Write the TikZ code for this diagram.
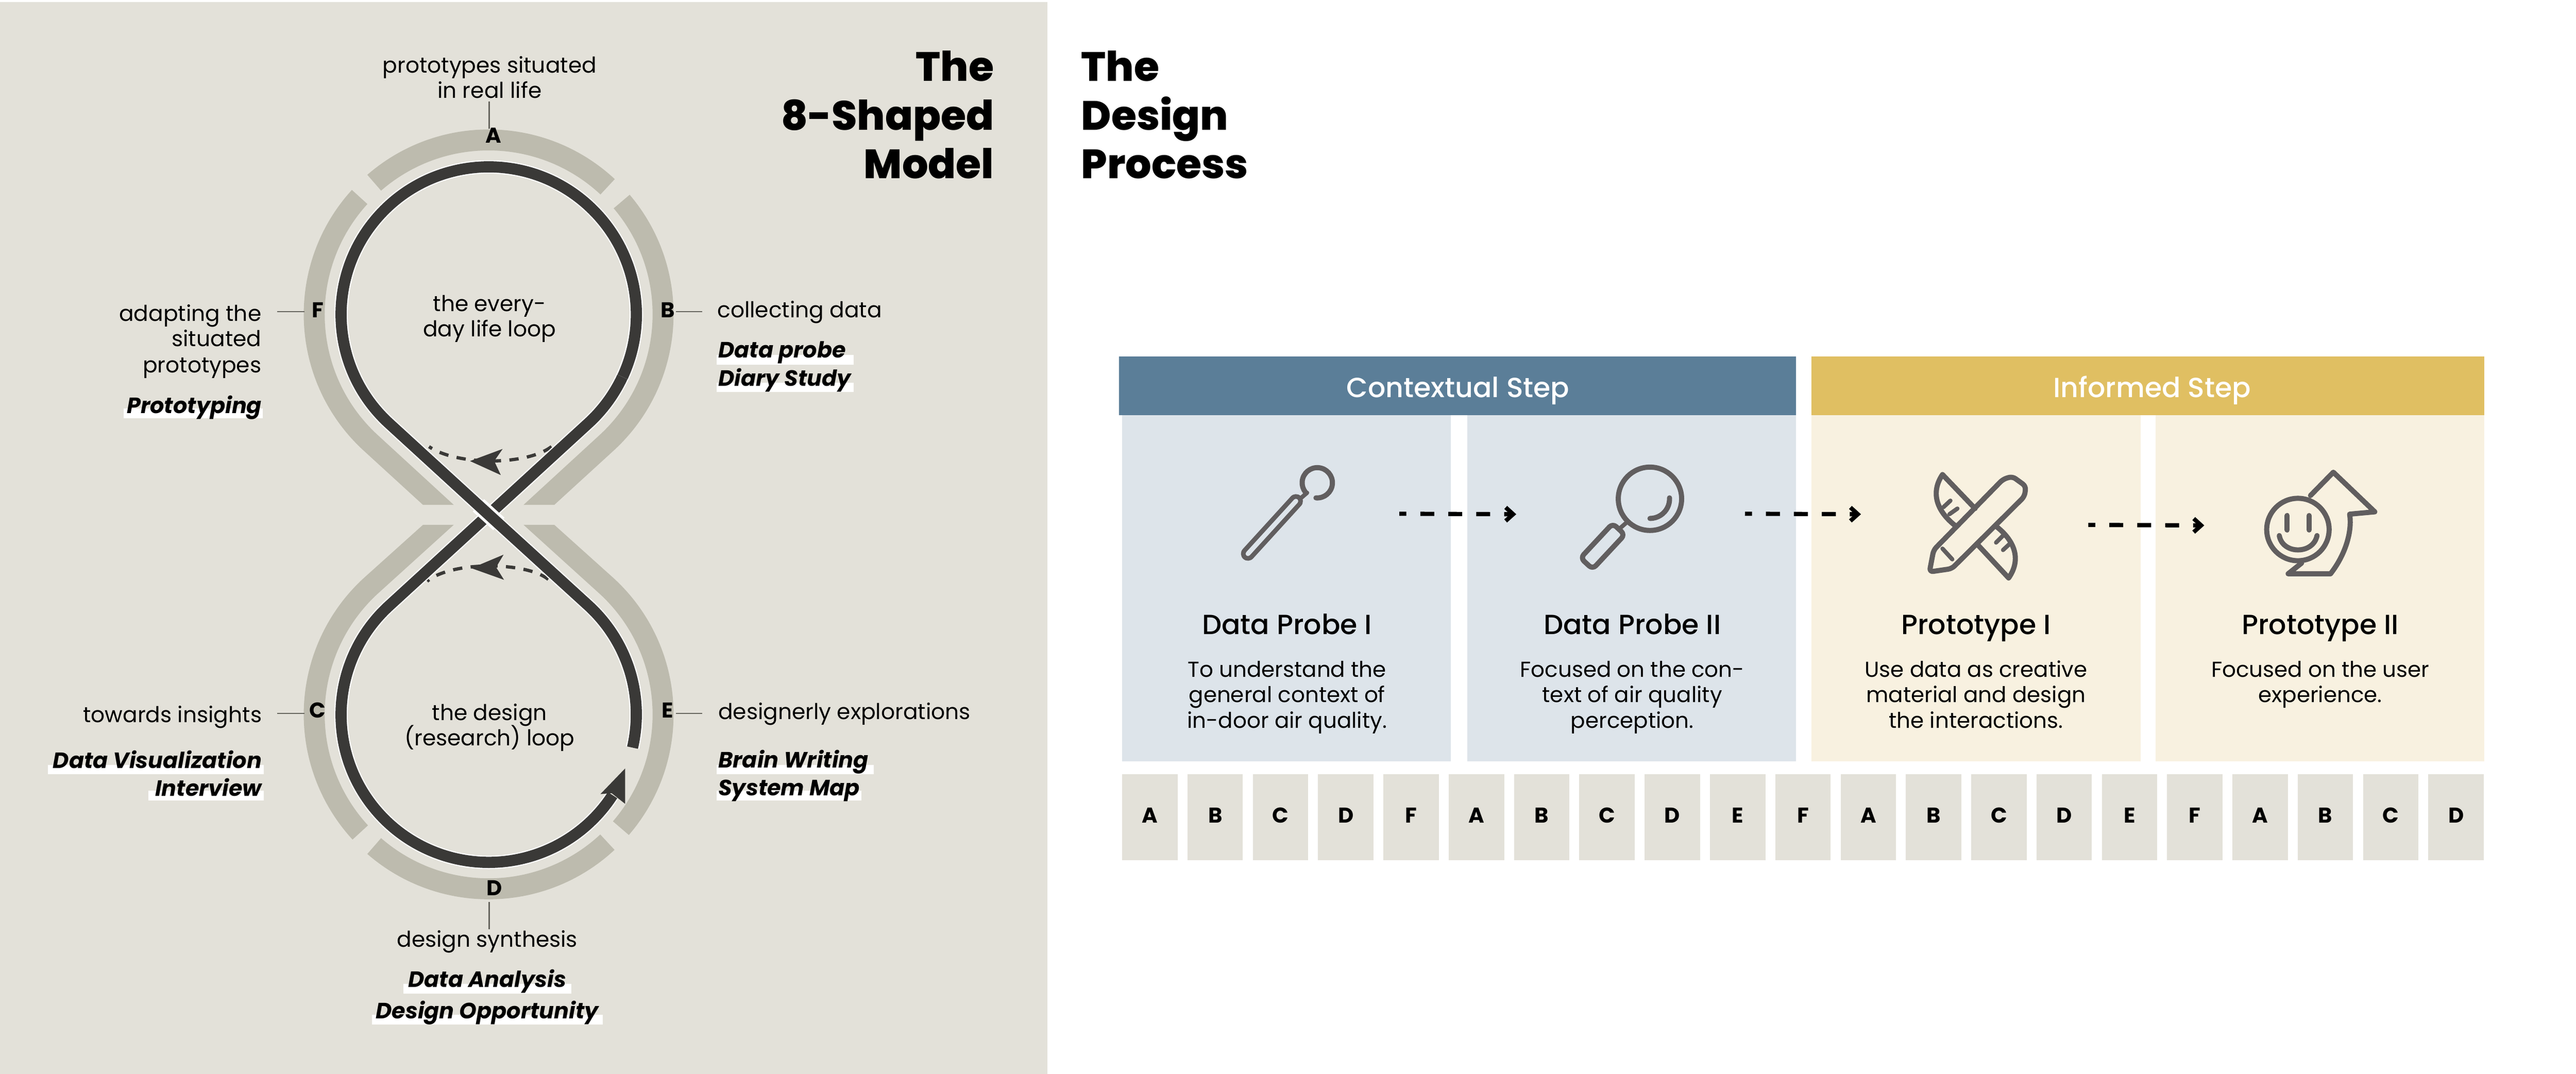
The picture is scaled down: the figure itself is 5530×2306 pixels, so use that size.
\documentclass[tikz,border=0pt]{standalone}
\usepackage{fontspec}
\setmainfont{Poppins}
\newfontfamily\pmed{Poppins Medium}
\newfontfamily\pxb{Poppins ExtraBold}
\usetikzlibrary{calc,arrows.meta}
\definecolor{panel}{HTML}{E3E1D9}
\definecolor{band}{HTML}{BDBBAE}
\definecolor{darkloop}{HTML}{3A3937}
\definecolor{hblue}{HTML}{5B7E98}
\definecolor{cblue}{HTML}{DDE4EA}
\definecolor{hgold}{HTML}{E0BF62}
\definecolor{cgold}{HTML}{F8F1E0}
\definecolor{iconc}{HTML}{615E5F}
\definecolor{leader}{HTML}{66655E}
\tikzset{
  lbl/.style={inner sep=0pt,font=\fontsize{4.68}{5}\selectfont},
  mth/.style={inner sep=0pt,font=\fontsize{4.75}{5}\selectfont\bfseries\itshape},
  lett/.style={inner sep=0pt,anchor=base,font=\fontsize{4.6}{5}\selectfont\bfseries},
  ttl/.style={inner sep=0pt,font=\fontsize{8.8}{10}\selectfont\pxb},
  head/.style={inner sep=0pt,anchor=base,text=white,font=\fontsize{5.95}{6}\selectfont\pmed},
  ctitle/.style={inner sep=0pt,anchor=base,font=\fontsize{5.95}{6}\selectfont\pmed},
  cbody/.style={inner sep=0pt,anchor=base,font=\fontsize{4.65}{5}\selectfont},
  tilebox/.style={fill=panel,inner sep=0pt,minimum width=11.9pt,minimum height=18.5pt},
  leadline/.style={draw=leader,line width=.25pt},
  casing/.style={draw=white,line width=2.9pt},
  stroke8/.style={draw=darkloop,line width=2.4pt},
  bandfill/.style={fill=band},
  dashloop/.style={draw=darkloop,line width=.7pt,dash pattern=on 2pt off 1.8pt},
  stepflow/.style={draw=black,line width=.9pt,dash pattern=on 3pt off 3pt,dash phase=1.5pt,-{Straight Barb[length=1.6pt,width=2.9pt,line width=.9pt]}},
  icon/.style={draw=iconc,line width=1.1pt,line cap=round,line join=round}
}
\begin{document}
\begin{tikzpicture}[x=.1pt,y=.1pt]
\useasboundingbox (0,0) rectangle (5530,2306);
\fill[white] (0,0) rectangle (5530,2306);
\fill[panel] (0,0) rectangle (2248,2302);
\coordinate (C1) at (1049,1631);
\coordinate (C2) at (1049,772);
\coordinate (X0) at (1049,1201);
% ---- outer bands
\fill[bandfill] ($(C1)+(47:39.7pt)$) arc[start angle=47,end angle=131,radius=39.7pt] -- ($(C1)+(131:35.2pt)$) arc[start angle=131,end angle=47,radius=35.2pt] -- cycle;
\fill[bandfill] ($(C1)+(137.7:39.7pt)$) arc[start angle=137.7,end angle=227.5,radius=39.7pt] -- (908,1222) -- (974,1222) -- ($(C1)+(227.5:35.2pt)$) arc[start angle=227.5,end angle=137.7,radius=35.2pt] -- cycle;
\fill[bandfill] ($(C1)+(40.3:39.7pt)$) arc[start angle=40.3,end angle=-47.5,radius=39.7pt] -- (1190,1222) -- (1124,1222) -- ($(C1)+(-47.5:35.2pt)$) arc[start angle=-47.5,end angle=40.3,radius=35.2pt] -- cycle;
\fill[bandfill] ($(C2)+(222.6:39.7pt)$) arc[start angle=222.6,end angle=132.5,radius=39.7pt] -- (908,1179) -- (974,1179) -- ($(C2)+(132.5:35.2pt)$) arc[start angle=132.5,end angle=222.6,radius=35.2pt] -- cycle;
\fill[bandfill] ($(C2)+(-40.7:39.7pt)$) arc[start angle=-40.7,end angle=47.5,radius=39.7pt] -- (1190,1179) -- (1124,1179) -- ($(C2)+(47.5:35.2pt)$) arc[start angle=47.5,end angle=-40.7,radius=35.2pt] -- cycle;
\fill[bandfill] ($(C2)+(229:39.7pt)$) arc[start angle=229,end angle=312.9,radius=39.7pt] -- ($(C2)+(312.9:35.2pt)$) arc[start angle=312.9,end angle=229,radius=35.2pt] -- cycle;
% ---- dashed inner returns
\coordinate (duS) at (1184,1347); \coordinate (duE) at (921,1347);
\coordinate (dlS) at (1177,1062); \coordinate (dlE) at (917,1058);
\draw[dashloop] (duS) .. controls (1130,1306) and (980,1306) .. (duE);
\draw[dashloop] (dlS) .. controls (1130,1100) and (970,1102) .. (dlE);
\fill[darkloop] (1009,1316) -- (1079,1342) -- (1061,1316) -- (1075,1286) -- cycle;
\fill[darkloop] (1012,1086) -- (1081,1115) -- (1065,1088) -- (1082,1061) -- cycle;
% ---- figure-of-eight
\path[casing] ($(C1)+(0:31.7pt)$) arc[start angle=0,end angle=-47.5,radius=31.7pt] -- (X0) -- (835,1005) arc[start angle=132.5,end angle=327,radius=31.7pt];
\path[stroke8] ($(C1)+(0:31.7pt)$) arc[start angle=0,end angle=-47.5,radius=31.7pt] -- (X0) -- (835,1005) arc[start angle=132.5,end angle=327,radius=31.7pt];
\fill[darkloop] (1342,656) -- (1289,601) -- (1313,603) -- (1342,580) -- cycle;
\draw[white,line width=3.6pt] (1071,1181) -- (1027,1221);
\path[casing] ($(C2)+(-13:31.7pt)$) arc[start angle=-13,end angle=47.5,radius=31.7pt] -- (X0) -- (835,1397) arc[start angle=227.5,end angle=-25,radius=31.7pt];
\path[stroke8] ($(C2)+(-13:31.7pt)$) arc[start angle=-13,end angle=47.5,radius=31.7pt] -- (X0) -- (835,1397) arc[start angle=227.5,end angle=-25,radius=31.7pt];
% ---- design process boxes
\begin{scope}[y=-.1pt,yshift=230.6pt]
\fill[hblue] (2402,765) rectangle (3855,891);
\fill[hgold] (3889,765) rectangle (5333,891);
\fill[cblue] (2409,891) rectangle (3115,1635);
\fill[cblue] (3150,891) rectangle (3856,1635);
\fill[cgold] (3889,891) rectangle (4595,1635);
\fill[cgold] (4628,891) rectangle (5333,1635);
\foreach \l [count=\i from 0] in {A,B,C,D,F,A,B,C,D,E,F,A,B,C,D,E,F,A,B,C,D} {
  \pgfmathsetmacro\tx{2468.5+140.2*\i}
  \node[tilebox] (tile\i) at (\tx,1754.5) {};
  \node[lett] (tileL\i) at (\tx,1767) {\l};
}
% highlights
\fill[white] (1538,762) rectangle (1833,783);
\fill[white] (1538,822) rectangle (1833,842);
\fill[white] (866,2112) rectangle (1226,2133);
\fill[white] (798,2179) rectangle (1294,2200);
\fill[white] (103,1642) rectangle (566,1662);
\fill[white] (318,1698) rectangle (566,1719);
\fill[white] (265,877) rectangle (564,898);
\fill[white] (1538,1642) rectangle (1876,1662);
\fill[white] (1538,1698) rectangle (1849,1719);
% titles
\node[ttl,anchor=base east] (tl1) at (2136,174) {The};
\node[ttl,anchor=base east] (tl2) at (2136,279) {8-Shaped};
\node[ttl,anchor=base east] (tl3) at (2136,383) {Model};
\node[ttl,anchor=base west] (tr1) at (2319,174) {The};
\node[ttl,anchor=base west] (tr2) at (2319,279) {Design};
\node[ttl,anchor=base west] (tr3) at (2319,383) {Process};
% loop letters
\node[lett] (la) at (1059,307) {A};
\node[lett] (lf) at (682,682) {F};
\node[lett] (lb) at (1434,682) {B};
\node[lett] (lc) at (682,1541) {C};
\node[lett] (le) at (1433,1541) {E};
\node[lett] (ld) at (1061,1923) {D};
% loop labels
\node[lbl,anchor=base] (ta1) at (1051,156) {prototypes situated};
\node[lbl,anchor=base] (ta2) at (1051,211) {in real life};
\node[lbl,anchor=base west] (tb1) at (1538,682) {collecting data};
\node[mth,anchor=base west] (tb2) at (1540,768) {Data probe};
\node[mth,anchor=base west] (tb3) at (1540,829) {Diary Study};
\node[lbl,anchor=base east] (tf1) at (563,689) {adapting the};
\node[lbl,anchor=base east] (tf2) at (563,744) {situated};
\node[lbl,anchor=base east] (tf3) at (563,800) {prototypes};
\node[mth,anchor=base east] (tf4) at (564,887) {Prototyping};
\node[lbl,anchor=base east] (tc1) at (564,1551) {towards insights};
\node[mth,anchor=base east] (tc2) at (564,1649) {Data Visualization};
\node[mth,anchor=base east] (tc3) at (564,1709) {Interview};
\node[lbl,anchor=base west] (te1) at (1540,1544) {designerly explorations};
\node[mth,anchor=base west] (te2) at (1540,1648) {Brain Writing};
\node[mth,anchor=base west] (te3) at (1540,1708) {System Map};
\node[lbl,anchor=base] (td1) at (1046,2033) {design synthesis};
\node[mth,anchor=base] (td2) at (1046,2120) {Data Analysis};
\node[mth,anchor=base] (td3) at (1046,2187) {Design Opportunity};
\node[lbl,anchor=base] (tu1) at (1051,669) {the every-};
\node[lbl,anchor=base] (tu2) at (1051,723) {day life loop};
\node[lbl,anchor=base] (tw1) at (1051,1547) {the design};
\node[lbl,anchor=base] (tw2) at (1051,1601) {(research) loop};
% leader lines
\coordinate (aT) at (1050,218); \coordinate (aB) at (1050,276);
\coordinate (fL) at (595,669); \coordinate (fR) at (654,669);
\coordinate (bL) at (1451,669); \coordinate (bR) at (1508,669);
\coordinate (cL) at (595,1532); \coordinate (cR) at (654,1532);
\coordinate (eL) at (1451,1532); \coordinate (eR) at (1508,1532);
\coordinate (dT) at (1050,1937); \coordinate (dB) at (1050,1995);
\draw[leadline] (aT) -- (aB);
\draw[leadline] (fL) -- (fR);
\draw[leadline] (bL) -- (bR);
\draw[leadline] (cL) -- (cR);
\draw[leadline] (eL) -- (eR);
\draw[leadline] (dT) -- (dB);
% headers and cell texts
\node[head] (hc) at (3130,853) {Contextual Step};
\node[head] (hi) at (4620,853) {Informed Step};
\node[ctitle] (c1t) at (2763,1362) {Data Probe I};
\node[cbody] (c1a) at (2763,1454) {To understand the};
\node[cbody] (c1b) at (2763,1508) {general context of};
\node[cbody] (c1c) at (2763,1563) {in-door air quality.};
\node[ctitle] (c2t) at (3504,1362) {Data Probe II};
\node[cbody] (c2a) at (3504,1454) {Focused on the con-};
\node[cbody] (c2b) at (3504,1508) {text of air quality};
\node[cbody] (c2c) at (3504,1563) {perception.};
\node[ctitle] (c3t) at (4242,1362) {Prototype I};
\node[cbody] (c3a) at (4242,1454) {Use data as creative};
\node[cbody] (c3b) at (4242,1508) {material and design};
\node[cbody] (c3c) at (4242,1563) {the interactions.};
\node[ctitle] (c4t) at (4981,1362) {Prototype II};
\node[cbody] (c4a) at (4981,1454) {Focused on the user};
\node[cbody] (c4b) at (4981,1508) {experience.};
% step arrows
\coordinate (s1a) at (3004,1103); \coordinate (s1b) at (3255,1104);
\coordinate (s2a) at (3746,1103); \coordinate (s2b) at (3995,1104);
\coordinate (s3a) at (4483,1127); \coordinate (s3b) at (4732,1128);
\draw[stepflow] (s1a) -- (s1b);
\draw[stepflow] (s2a) -- (s2b);
\draw[stepflow] (s3a) -- (s3b);
\end{scope}
% ---- icon: probe
\draw[icon] (2825,1237) arc[start angle=-95,end angle=219,radius=3.25pt];
\draw[icon,line width=.9pt] (2806,1248) -- (2791,1235);
\draw[iconc,line width=3pt,line cap=round] (2782,1230) -- (2679,1117);
\draw[cblue,line width=1pt,line cap=round] (2782,1230) -- (2679,1117);
% ---- icon: magnifier
\draw[icon] (3542,1235) circle[radius=6.8pt];
\draw[icon] (3584,1237) arc[start angle=3,end angle=-90,radius=4.2pt];
\draw[icon,line width=.9pt] (3494,1186) -- (3478,1172);
\draw[icon,rounded corners=1pt] (3488,1158) -- (3462,1182) -- (3393,1108) -- (3419,1084) -- cycle;
% ---- icon: ruler and pencil
\draw[icon] (4240,1214) -- (4170,1287) .. controls (4145,1250) and (4155,1210) .. (4199,1176);
\draw[icon,line width=.9pt] (4187,1231) -- (4172,1217) (4202,1214) -- (4185,1202);
\draw[icon] (4285,1176) .. controls (4325,1145) and (4340,1105) .. (4312,1065) -- (4244,1138);
\draw[icon,line width=.9pt] (4300,1156) -- (4285,1141) (4314,1138) -- (4300,1125);
\draw[icon,rounded corners=.8pt] (4151,1125) -- (4142,1078) -- (4190,1085) -- (4346,1240) -- (4349,1262) -- (4320,1283) -- (4300,1277) -- cycle;
\draw[icon,line width=.9pt] (4170,1128) -- (4191,1105);
% ---- icon: smiley with arrow
\draw[icon] (4933,1169) circle[radius=6.7pt];
\draw[icon] (4910,1199) -- (4910,1168) (4957,1199) -- (4957,1168);
\draw[icon] (4893,1156) .. controls (4900,1115) and (4966,1115) .. (4974,1156);
\draw[icon] (4960,1242) -- (5009,1292) -- (5098,1207) -- (5044,1202) .. controls (5050,1165) and (5035,1115) .. (5003,1074) -- (4912,1074) -- (4941,1097);
\end{tikzpicture}
\end{document}
